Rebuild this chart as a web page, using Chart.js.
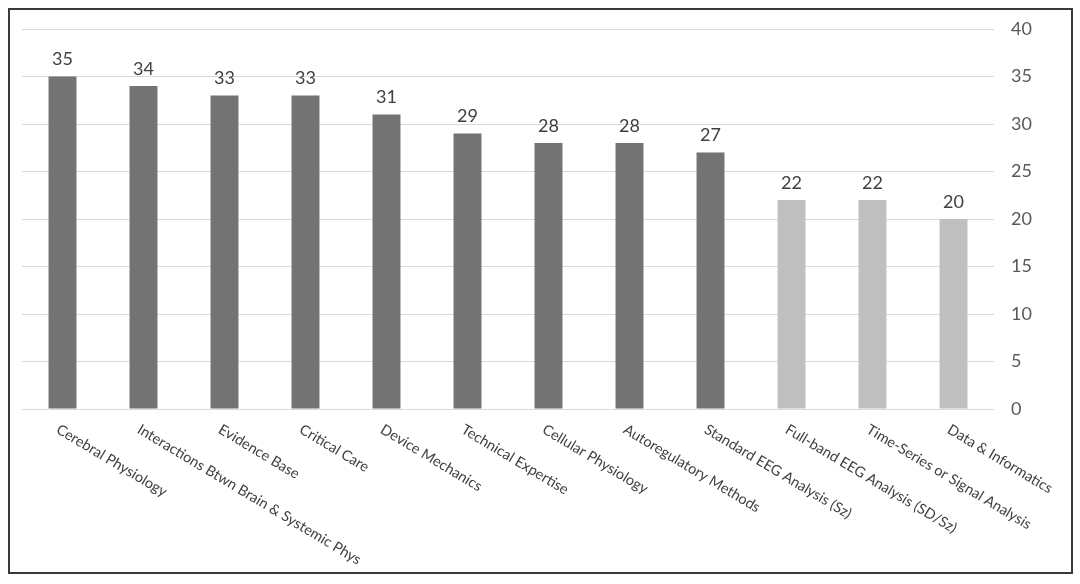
<!DOCTYPE html>
<html>
<head>
<meta charset="utf-8">
<script src="https://cdn.jsdelivr.net/npm/chart.js@4"></script>
<style>
  html, body { margin: 0; padding: 0; background: #fff; }
  #wrap { position: relative; width: 1080px; height: 584px; }
  #frame { position: absolute; left: 8px; top: 8px; width: 1061px; height: 562px; border: 2px solid #3a3a3a; pointer-events: none; }
  canvas { position: absolute; left: 0; top: 0; }
</style>
</head>
<body>
<div id="wrap">
  <canvas id="c" width="1080" height="584"></canvas>
  <div id="frame"></div>
</div>
<script>
const categories = [
  "Cerebral Physiology",
  "Interactions Btwn Brain & Systemic Phys",
  "Evidence Base",
  "Critical Care",
  "Device Mechanics",
  "Technical Expertise",
  "Cellular Physiology",
  "Autoregulatory Methods",
  "Standard EEG Analysis (Sz)",
  "Full-band EEG Analysis (SD/Sz)",
  "Time-Series or Signal Analysis",
  "Data & Informatics"
];
const values = [35, 34, 33, 33, 31, 29, 28, 28, 27, 22, 22, 20];
const barColors = ["#737373","#737373","#737373","#737373","#737373","#737373","#737373","#737373","#737373","#bfbfbf","#bfbfbf","#bfbfbf"];
const yTicks = [0, 5, 10, 15, 20, 25, 30, 35, 40];

const labelPlugin = {
  id: 'customLabels',
  afterDatasetsDraw(chart) {
    const ctx = chart.ctx;
    const meta = chart.getDatasetMeta(0);
    ctx.save();
    ctx.fillStyle = '#404040';
    ctx.font = '18px Lato, "Open Sans", sans-serif';
    ctx.textAlign = 'center';
    ctx.textBaseline = 'bottom';
    meta.data.forEach((bar, i) => {
      ctx.fillText(String(values[i]), bar.x, bar.y - 8);
    });
    ctx.restore();
  },
  afterDraw(chart) {
    const ctx = chart.ctx;
    const xs = chart.scales.x;
    const bottom = chart.chartArea.bottom;
    ctx.save();
    ctx.fillStyle = '#404040';
    ctx.font = '14.5px Lato, "Open Sans", sans-serif';
    ctx.textAlign = 'left';
    ctx.textBaseline = 'top';
    categories.forEach((lab, i) => {
      const x = xs.getPixelForValue(i);
      ctx.save();
      ctx.translate(x - 1, bottom + 13);
      ctx.rotate(31 * Math.PI / 180);
      ctx.fillText(lab, 0, 0);
      ctx.restore();
    });
    ctx.restore();
  }
};

new Chart(document.getElementById('c'), {
  type: 'bar',
  data: {
    labels: categories,
    datasets: [{
      data: values,
      backgroundColor: barColors,
      borderWidth: 0,
      barPercentage: 0.345,
      categoryPercentage: 1.0
    }]
  },
  options: {
    responsive: false,
    animation: false,
    devicePixelRatio: 1,
    layout: { padding: { left: 22, top: 29, right: 0, bottom: 0 } },
    plugins: { legend: { display: false }, tooltip: { enabled: false } },
    scales: {
      x: {
        grid: { display: false },
        border: { display: false },
        ticks: { display: false },
        afterFit(scale) { scale.height = 175; }
      },
      y: {
        position: 'right',
        min: 0,
        max: 40,
        afterBuildTicks(scale) { scale.ticks = yTicks.map(v => ({ value: v })); },
        grid: { color: '#d9d9d9', lineWidth: 1, drawTicks: false },
        border: { display: false },
        ticks: {
          padding: 17,
          color: '#595959',
          font: { family: 'Lato, "Open Sans", sans-serif', size: 18 }
        },
        afterFit(scale) { scale.width = 86; }
      }
    }
  },
  plugins: [labelPlugin]
});
</script>
</body>
</html>
